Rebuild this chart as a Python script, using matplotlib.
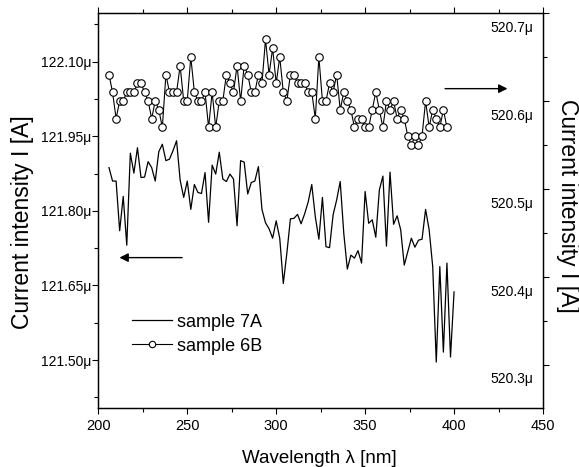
import matplotlib
matplotlib.use("Agg")
import matplotlib.pyplot as plt

plt.rcParams["font.family"] = ["Liberation Sans", "DejaVu Sans"]

# sample 7A (left axis), one reading every 2 nm
wavelength_7a = [
    206, 208, 210, 212, 214, 216, 218, 220, 222, 224, 226, 228, 230, 232, 234, 236,
    238, 240, 242, 244, 246, 248, 250, 252, 254, 256, 258, 260, 262, 264, 266, 268,
    270, 272, 274, 276, 278, 280, 282, 284, 286, 288, 290, 292, 294, 296, 298, 300,
    302, 304, 306, 308, 310, 312, 314, 316, 318, 320, 322, 324, 326, 328, 330, 332,
    334, 336, 338, 340, 342, 344, 346, 348, 350, 352, 354, 356, 358, 360, 362, 364,
    366, 368, 370, 372, 374, 376, 378, 380, 382, 384, 386, 388, 390, 392, 394, 396,
    398, 400,
]
current_7a = [
    121.887, 121.860, 121.860, 121.760, 121.829, 121.731, 121.916, 121.876, 121.927, 121.867,
    121.868, 121.899, 121.887, 121.860, 121.919, 121.934, 121.901, 121.904, 121.921, 121.941,
    121.862, 121.827, 121.860, 121.803, 121.853, 121.837, 121.835, 121.877, 121.777, 121.892,
    121.874, 121.918, 121.864, 121.859, 121.874, 121.864, 121.770, 121.901, 121.898, 121.834,
    121.857, 121.860, 121.889, 121.803, 121.776, 121.764, 121.745, 121.780, 121.745, 121.654,
    121.715, 121.784, 121.785, 121.793, 121.774, 121.794, 121.818, 121.853, 121.788, 121.743,
    121.827, 121.728, 121.726, 121.792, 121.822, 121.859, 121.755, 121.683, 121.711, 121.705,
    121.720, 121.695, 121.839, 121.775, 121.782, 121.747, 121.842, 121.870, 121.729, 121.878,
    121.773, 121.790, 121.762, 121.691, 121.718, 121.745, 121.727, 121.741, 121.743, 121.803,
    121.762, 121.688, 121.496, 121.688, 121.516, 121.695, 121.506, 121.637,
]

# sample 6B (right axis)
wavelength_6b = [
    206, 208, 210, 212, 214, 216, 218, 220, 222, 224, 226, 228, 230, 232, 234, 236,
    238, 240, 242, 244, 246, 248, 250, 252, 254, 256, 258, 260, 262, 264, 266, 268,
    270, 272, 274, 276, 278, 280, 282, 284, 286, 288, 290, 292, 294, 296, 298, 300,
    302, 304, 306, 308, 310, 312, 314, 316, 318, 320, 322, 324, 326, 328, 330, 332,
    334, 336, 338, 340, 342, 344, 346, 348, 350, 352, 354, 356, 358, 360, 362, 364,
    366, 368, 370, 372, 374, 376, 378, 380, 382, 384, 386, 388, 390, 392, 394, 396,
]
current_6b = [
    520.63, 520.61, 520.58, 520.60, 520.60, 520.61, 520.61, 520.61, 520.62, 520.62,
    520.61, 520.60, 520.58, 520.60, 520.59, 520.57, 520.63, 520.61, 520.61, 520.61,
    520.64, 520.60, 520.60, 520.65, 520.61, 520.60, 520.60, 520.61, 520.57, 520.61,
    520.57, 520.60, 520.60, 520.63, 520.62, 520.61, 520.64, 520.60, 520.64, 520.63,
    520.61, 520.61, 520.63, 520.62, 520.67, 520.63, 520.66, 520.62, 520.65, 520.61,
    520.60, 520.63, 520.63, 520.62, 520.62, 520.62, 520.61, 520.61, 520.58, 520.65,
    520.60, 520.60, 520.62, 520.61, 520.63, 520.59, 520.61, 520.60, 520.59, 520.57,
    520.58, 520.58, 520.57, 520.57, 520.59, 520.61, 520.59, 520.57, 520.60, 520.59,
    520.60, 520.58, 520.59, 520.58, 520.56, 520.55, 520.56, 520.55, 520.56, 520.60,
    520.57, 520.59, 520.58, 520.57, 520.59, 520.57,
]

x_ticks = [200, 250, 300, 350, 400, 450]
x_minor = [225, 275, 325, 375, 425]
left_ticks = [121.50, 121.65, 121.80, 121.95, 122.10]
left_minor = [121.425, 121.575, 121.725, 121.875, 122.025, 122.175]
right_ticks = [520.3, 520.4, 520.5, 520.6, 520.7]
right_minor = [520.35, 520.45, 520.55, 520.65]


def main():
    fig = plt.figure(figsize=(5.79, 4.67), dpi=100)
    ax = fig.add_axes([0.1698, 0.1263, 0.7680, 0.8459])
    ax2 = ax.twinx()

    ax.plot(wavelength_7a, current_7a, color="black", linewidth=0.9, label="sample 7A")
    ax2.plot(wavelength_6b, current_6b, color="black", linewidth=0.8, marker="o",
             markersize=5.4, markerfacecolor="white", markeredgecolor="black",
             markeredgewidth=0.8)
    # proxy handle so both entries sit in one legend on the left axis
    ax.plot([], [], color="black", linewidth=0.8, marker="o", markersize=4.6,
            markerfacecolor="white", markeredgewidth=0.8, label="sample 6B")

    ax.set_xlim(200, 450)
    ax.set_ylim(121.4035, 122.198)
    ax2.set_ylim(520.251, 520.700)

    ax.set_xticks(x_ticks)
    ax.set_xticks(x_minor, minor=True)
    ax.set_yticks(left_ticks)
    ax.set_yticklabels([f"{v:.2f}\u03bc" for v in left_ticks])
    ax.set_yticks(left_minor, minor=True)
    ax2.set_yticks(right_ticks)
    ax2.set_yticks(right_minor, minor=True)

    ax.tick_params(axis="x", which="major", direction="out", length=4.3, width=0.8,
                   labelsize=10.5, pad=3.5, top=True)
    ax.tick_params(axis="x", which="minor", direction="out", length=2.8, width=0.8, top=True)
    ax.tick_params(axis="y", which="major", direction="out", length=4.2, width=0.8,
                   labelsize=10.0, pad=0.8)
    ax.tick_params(axis="y", which="minor", direction="out", length=2.8, width=0.8)
    ax2.tick_params(axis="y", which="major", direction="out", length=4.3, width=0.8,
                    labelright=False)
    ax2.tick_params(axis="y", which="minor", direction="out", length=2.8, width=0.8)

    # right-axis labels sit inside the frame, a little below their ticks
    for v in right_ticks:
        ax2.annotate(f"{v:.1f}\u03bc", xy=(1, v), xycoords=("axes fraction", "data"),
                     xytext=(-7, -10.5), textcoords="offset points",
                     ha="right", va="center", fontsize=10.0)

    for a in (ax, ax2):
        for s in a.spines.values():
            s.set_linewidth(0.9)

    ax.annotate("", xy=(210.3, 121.706), xytext=(248.7, 121.706),
                arrowprops=dict(arrowstyle="-|>", color="black", lw=1.0,
                                mutation_scale=13))
    ax2.annotate("", xy=(431.6, 520.614), xytext=(393.4, 520.614),
                 arrowprops=dict(arrowstyle="-|>", color="black", lw=1.0,
                                 mutation_scale=13))

    ax.legend(loc="center left", bbox_to_anchor=(0.0758, 0.187), frameon=False,
              fontsize=13, handlelength=2.2, handletextpad=0.3, borderpad=0,
              borderaxespad=0, labelspacing=0.38, numpoints=1)

    fig.text(23 / 579, 1 - 222.5 / 467, "Current intensity I [A]", rotation=90,
             ha="center", va="center", fontsize=16.5)
    fig.text(567 / 579, 1 - 205.7 / 467, "Current intensity I [A]", rotation=270,
             ha="center", va="center", fontsize=16.5)
    fig.text(319.5 / 579, 1 - 463 / 467, "Wavelength \u03bb [nm]", ha="center",
             va="baseline", fontsize=13.5)

    fig.savefig("out.png", dpi=100)


if __name__ == "__main__":
    main()
